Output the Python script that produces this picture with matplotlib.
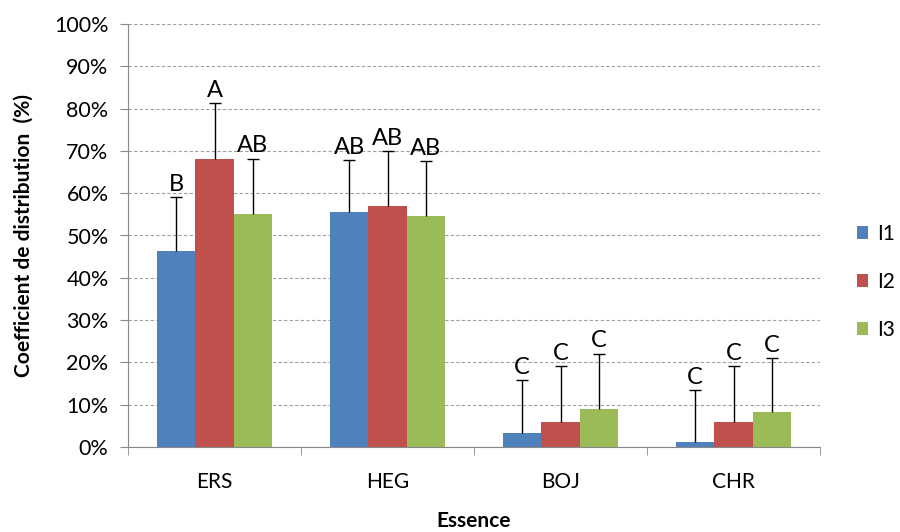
import matplotlib
matplotlib.use("Agg")
import matplotlib.pyplot as plt
import numpy as np
from matplotlib.ticker import FuncFormatter, MultipleLocator

categories = ["ERS", "HEG", "BOJ", "CHR"]
series = ["I1", "I2", "I3"]
means = {
    "I1": [46.4, 55.5, 3.4, 1.2],
    "I2": [68.2, 57.0, 5.8, 5.8],
    "I3": [55.2, 54.7, 8.9, 8.2],
}
errors = {
    "I1": [12.8, 12.3, 12.4, 12.3],
    "I2": [13.1, 13.0, 13.3, 13.3],
    "I3": [13.0, 12.9, 13.2, 12.9],
}
letters = {
    "I1": ["B", "AB", "C", "C"],
    "I2": ["A", "AB", "C", "C"],
    "I3": ["AB", "AB", "C", "C"],
}
colors = ["#4F81BD", "#C0504D", "#9BBB59"]

plt.rcParams['font.family'] = ['Lato', 'DejaVu Sans']

fig = plt.figure(figsize=(9.0, 5.32), dpi=100)
ax = fig.add_axes([128/900, 1-447/532, (820-128)/900, (447-24)/532])

x = np.arange(len(categories))
w = 0.222
for i, s in enumerate(series):
    xs = x + (i - 1) * w
    ax.bar(xs, means[s], width=w, color=colors[i], label=s, zorder=2)
    _, caps, _ = ax.errorbar(xs, means[s], yerr=[np.zeros(len(xs)), errors[s]], fmt='none',
                             ecolor='black', elinewidth=1, capsize=4.5, capthick=1, zorder=3)
    if len(caps) == 2:
        caps[0].set_visible(False)
    for xi, m, e, lab in zip(xs, means[s], errors[s], letters[s]):
        ax.annotate(lab, (xi, m + e), xytext=(0, 1.5), textcoords='offset points',
                    ha='center', va='bottom', fontsize=17, color='black')

ax.set_xlim(-0.5, len(categories) - 0.5)
ax.set_ylim(0, 100)
ax.yaxis.set_major_locator(MultipleLocator(10))
ax.yaxis.set_major_formatter(FuncFormatter(lambda v, p: f"{int(round(v))}%"))
ax.set_xticks(x)
ax.set_xticklabels(categories)
ax.set_xticks(np.arange(-0.5, len(categories)), minor=True)
ax.tick_params(axis='x', which='major', length=0, labelsize=15, pad=18)
ax.tick_params(axis='x', which='minor', length=6, color='#888888', direction='out')
ax.tick_params(axis='y', length=6, color='#888888', labelsize=15.5, pad=8)

ax.grid(axis='y', linestyle=(0, (3, 2)), color='#A0A0A0', linewidth=0.8, zorder=0)
ax.set_axisbelow(True)
for sp in ['top', 'right']:
    ax.spines[sp].set_visible(False)
for sp in ['left', 'bottom']:
    ax.spines[sp].set_color('#888888')

ax.set_ylabel("Coefficient de distribution  (%)", fontsize=15, fontweight='bold', labelpad=15)
ax.set_xlabel("Essence", fontsize=15, fontweight='bold', labelpad=14)

leg = fig.legend(loc='center left', bbox_to_anchor=(857/900, 1-282/532), frameon=False,
                 fontsize=15, handlelength=0.55, handleheight=0.55, handletextpad=0.4,
                 labelspacing=1.35, borderaxespad=0, borderpad=0)

fig.savefig("out.png", dpi=100)
